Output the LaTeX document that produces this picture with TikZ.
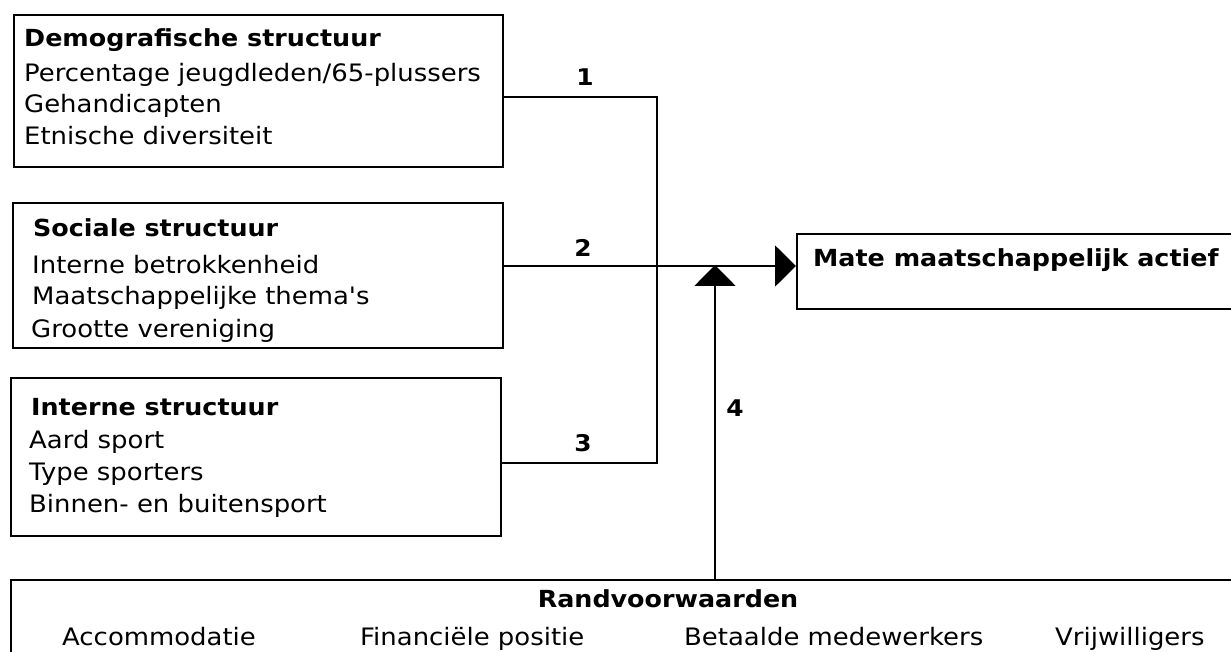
\documentclass[tikz,border=0pt]{standalone}
\usepackage{fontspec}
\newfontfamily\vfont{DejaVu Sans}[FakeStretch=1.08]
\usetikzlibrary{arrows.meta}
\tikzset{
  box/.style={draw=black, line width=2pt, fill=none, inner sep=0pt, anchor=north west},
  txt/.style={anchor=base west, inner sep=0pt, font=\vfont\fontsize{24}{28}\selectfont},
  ttl/.style={anchor=base west, inner sep=0pt, font=\vfont\fontsize{23.5}{28}\selectfont\bfseries},
  num/.style={anchor=center, inner sep=0pt, font=\vfont\fontsize{23}{26}\selectfont\bfseries},
  conn/.style={draw=black, line width=2pt},
  tip/.style={-{Triangle[length=21pt,width=41pt]}}
}
\begin{document}
\begin{tikzpicture}[x=1pt,y=-1pt]
\useasboundingbox[fill=white] (0,0) rectangle (1231,652);
% boxes
\node[box, minimum width=489pt, minimum height=152pt] (demo) at (13,14) {};
\node[box, minimum width=490pt, minimum height=145pt] (social) at (12,202) {};
\node[box, minimum width=490pt, minimum height=158pt] (intern) at (10,377) {};
\node[box, minimum width=450pt, minimum height=75pt] (target) at (796,233) {};
\node[box, minimum width=1235pt, minimum height=90pt] (rand) at (10,579) {};
% box texts
\node[ttl] (t1) at (24,47) {Demografische structuur};
\node[txt] (t1a) at (24,82) {Percentage jeugdleden/65-plussers};
\node[txt] (t1b) at (24,113) {Gehandicapten};
\node[txt] (t1c) at (24,145) {Etnische diversiteit};
\node[ttl] (t2) at (33,237) {Sociale structuur};
\node[txt] (t2a) at (32,273) {Interne betrokkenheid};
\node[txt] (t2b) at (32,305) {Maatschappelijke thema's};
\node[txt] (t2c) at (31,337) {Grootte vereniging};
\node[ttl] (t3) at (31,415) {Interne structuur};
\node[txt] (t3a) at (29,448) {Aard sport};
\node[txt] (t3b) at (29,480) {Type sporters};
\node[txt] (t3c) at (29,512) {Binnen- en buitensport};
\node[ttl] (tt) at (813,267) {Mate maatschappelijk actief};
\node[ttl, anchor=base] (tr) at (668,607) {Randvoorwaarden};
\node[txt] (r1) at (62,645) {Accommodatie};
\node[txt] (r2) at (360,645) {Financiële positie};
\node[txt] (r3) at (684,645) {Betaalde medewerkers};
\node[txt] (r4) at (1055,645) {Vrijwilligers};
% junction coordinates
\coordinate (j1) at (657,97);
\coordinate (j2) at (657,266);
\coordinate (j3) at (657,463);
\coordinate (a4) at (715,265);
% connectors
\draw[conn] (j1 -| demo.east) -- (j1) -- (j3) -- (j3 -| intern.east);
\draw[conn, tip] (j2 -| social.east) -- (target.west |- j2);
\draw[conn, tip] (rand.north -| a4) -- (a4);
% labels
\node[num] (n1) at (585,77) {1};
\node[num] (n2) at (583,248) {2};
\node[num] (n3) at (583,443) {3};
\node[num] (n4) at (735,408) {4};
\end{tikzpicture}
\end{document}
